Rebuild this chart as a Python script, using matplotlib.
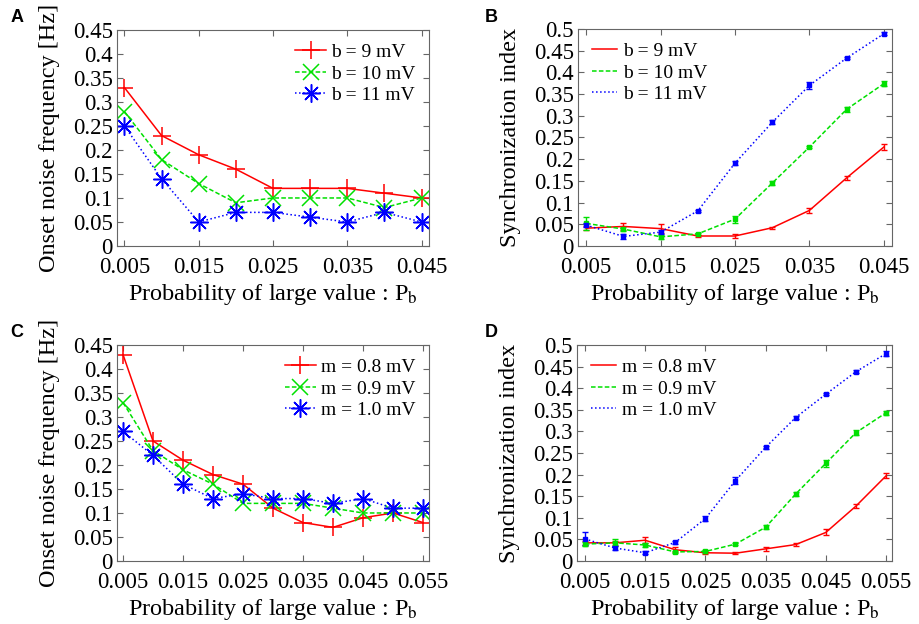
import numpy as np
import matplotlib
matplotlib.use("Agg")
import matplotlib.pyplot as plt
from matplotlib.lines import Line2D

plt.rcParams['font.family'] = ['Liberation Serif', 'DejaVu Serif']
plt.rcParams['mathtext.fontset'] = 'stix'

# data
pb_ab = [0.005, 0.010, 0.015, 0.020, 0.025, 0.030, 0.035, 0.040, 0.045]
pb_cd = [0.005, 0.010, 0.015, 0.020, 0.025, 0.030, 0.035, 0.040, 0.045, 0.050, 0.055]

# panel A: onset noise frequency
a_b9 = [0.33, 0.23, 0.19, 0.16, 0.12, 0.12, 0.12, 0.11, 0.10]
a_b10 = [0.28, 0.18, 0.13, 0.09, 0.10, 0.10, 0.10, 0.08, 0.10]
a_b11 = [0.25, 0.14, 0.05, 0.07, 0.07, 0.06, 0.05, 0.07, 0.05]

# panel B: synchronization index (+ error)
b_b9 = [0.041, 0.045, 0.040, 0.023, 0.023, 0.042, 0.082, 0.157, 0.228]
b_b9_err = [0.005, 0.008, 0.010, 0.003, 0.005, 0.002, 0.005, 0.004, 0.008]
b_b10 = [0.052, 0.039, 0.021, 0.028, 0.062, 0.145, 0.228, 0.315, 0.374]
b_b10_err = [0.015, 0.005, 0.004, 0.003, 0.008, 0.005, 0.003, 0.006, 0.005]
b_b11 = [0.048, 0.022, 0.032, 0.081, 0.191, 0.285, 0.370, 0.433, 0.489]
b_b11_err = [0.005, 0.005, 0.005, 0.003, 0.005, 0.005, 0.008, 0.003, 0.004]

# panel C: onset noise frequency
c_m08 = [0.43, 0.25, 0.21, 0.18, 0.16, 0.11, 0.08, 0.07, 0.09, 0.10, 0.08]
c_m09 = [0.33, 0.23, 0.19, 0.16, 0.12, 0.12, 0.12, 0.11, 0.10, 0.10, 0.10]
c_m10 = [0.27, 0.22, 0.16, 0.13, 0.14, 0.13, 0.13, 0.12, 0.13, 0.11, 0.11]

# panel D: synchronization index (+ error)
d_m08 = [0.042, 0.042, 0.048, 0.026, 0.019, 0.018, 0.028, 0.038, 0.066, 0.127, 0.197]
d_m08_err = [0.004, 0.004, 0.007, 0.006, 0.004, 0.002, 0.005, 0.004, 0.007, 0.005, 0.006]
d_m09 = [0.039, 0.042, 0.037, 0.021, 0.022, 0.039, 0.078, 0.155, 0.226, 0.297, 0.343]
d_m09_err = [0.004, 0.008, 0.004, 0.003, 0.004, 0.003, 0.005, 0.004, 0.008, 0.006, 0.005]
d_m10 = [0.051, 0.030, 0.019, 0.043, 0.098, 0.186, 0.263, 0.332, 0.386, 0.438, 0.480]
d_m10_err = [0.015, 0.004, 0.003, 0.004, 0.006, 0.008, 0.004, 0.003, 0.003, 0.003, 0.005]

labels_b = ['b = 9 mV', 'b = 10 mV', 'b = 11 mV']
labels_m = ['m = 0.8 mV', 'm = 0.9 mV', 'm = 1.0 mV']

RED = '#ff0000'
GREEN = '#00e000'
BLUE = '#0000ff'
ASTER = (8, 2, 0)
DASH = (3, 1.5)

xlabel = r'Probability of large value : P$_{\mathrm{b}}$'
fs = 16.5
lfs = 17.5


def style(ax, xlim, xticks, ylim, yticks, ylab):
    ax.set_xlim(xlim)
    ax.set_ylim(ylim)
    ax.set_xticks(xticks)
    ax.set_xticklabels(['%g' % t for t in xticks])
    ax.set_yticks(yticks)
    ax.set_yticklabels(['%g' % round(t, 2) for t in yticks])
    ax.tick_params(direction='in', top=True, right=True, length=4,
                   color='#666666', labelsize=fs)
    ax.tick_params(axis='x', pad=8)
    ax.tick_params(axis='y', pad=3)
    for s in ax.spines.values():
        s.set_color('#666666')
    ax.set_xlabel(xlabel, fontsize=lfs, labelpad=3)
    ax.set_ylabel(ylab, fontsize=lfs, labelpad=9)


fig = plt.figure(figsize=(9.19, 6.24), dpi=100)

axA = fig.add_axes([0.1273, 0.6058, 0.3395, 0.3462])
axB = fig.add_axes([0.629, 0.6058, 0.3417, 0.3478])
axC = fig.add_axes([0.1273, 0.101, 0.3395, 0.3462])
axD = fig.add_axes([0.6279, 0.101, 0.3428, 0.3462])

leg_kw = dict(frameon=False, fontsize=14, labelspacing=0.2, borderaxespad=0.3)

# A
axA.plot(pb_ab, a_b9, '-', color=RED, marker='+', ms=13, mew=1.1, lw=1.1, label=labels_b[0])
axA.plot(pb_ab, a_b10, '--', color=GREEN, marker='x', ms=11, mew=1.1, lw=1.1,
         dashes=DASH, label=labels_b[1])
axA.plot(pb_ab, a_b11, ':', color=BLUE, marker=ASTER, ms=13, mew=1.1, lw=1.1, label=labels_b[2])
style(axA, (0.004, 0.046), [0.005, 0.015, 0.025, 0.035, 0.045],
      (0, 0.45), np.arange(0, 0.451, 0.05), 'Onset noise frequency [Hz]')
axA.legend(loc='upper right', handlelength=1.6, handletextpad=0.25, **leg_kw)

# B
axB.errorbar(pb_ab, b_b9, yerr=b_b9_err, fmt='-', color=RED, lw=1.1, capsize=2,
             elinewidth=1)
axB.errorbar(pb_ab, b_b10, yerr=b_b10_err, fmt='--', color=GREEN, lw=1.1, capsize=2,
             elinewidth=1, marker='s', ms=2.5, dashes=DASH)
axB.errorbar(pb_ab, b_b11, yerr=b_b11_err, fmt=':', color=BLUE, lw=1.1, capsize=2,
             elinewidth=1, marker='s', ms=3.5)
style(axB, (0.0039, 0.0461), [0.005, 0.015, 0.025, 0.035, 0.045],
      (0, 0.5), np.arange(0, 0.501, 0.05), 'Synchronization index')
hb = [Line2D([], [], color=RED, lw=1.1, ls='-'),
      Line2D([], [], color=GREEN, lw=1.1, ls='--', dashes=DASH),
      Line2D([], [], color=BLUE, lw=1.1, ls=':')]
axB.legend(hb, labels_b, loc='upper left', handlelength=1.3, handletextpad=0.3, **leg_kw)

# C
axC.plot(pb_cd, c_m08, '-', color=RED, marker='+', ms=13, mew=1.1, lw=1.1, label=labels_m[0])
axC.plot(pb_cd, c_m09, '--', color=GREEN, marker='x', ms=11, mew=1.1, lw=1.1,
         dashes=DASH, label=labels_m[1])
axC.plot(pb_cd, c_m10, ':', color=BLUE, marker=ASTER, ms=13, mew=1.1, lw=1.1, label=labels_m[2])
style(axC, (0.004, 0.056), [0.005, 0.015, 0.025, 0.035, 0.045, 0.055],
      (0, 0.45), np.arange(0, 0.451, 0.05), 'Onset noise frequency [Hz]')
axC.legend(loc='upper right', handlelength=1.6, handletextpad=0.25, **leg_kw)

# D
axD.errorbar(pb_cd, d_m08, yerr=d_m08_err, fmt='-', color=RED, lw=1.1, capsize=2,
             elinewidth=1)
axD.errorbar(pb_cd, d_m09, yerr=d_m09_err, fmt='--', color=GREEN, lw=1.1, capsize=2,
             elinewidth=1, marker='s', ms=2.5, dashes=DASH)
axD.errorbar(pb_cd, d_m10, yerr=d_m10_err, fmt=':', color=BLUE, lw=1.1, capsize=2,
             elinewidth=1, marker='s', ms=3.5)
style(axD, (0.0037, 0.056), [0.005, 0.015, 0.025, 0.035, 0.045, 0.055],
      (0, 0.5), np.arange(0, 0.501, 0.05), 'Synchronization index')
axD.legend(hb, labels_m, loc='upper left', handlelength=1.3, handletextpad=0.3, **leg_kw)

# panel letters
for lab, x, y in [('A', 0.011, 0.985), ('B', 0.527, 0.985), ('C', 0.011, 0.48), ('D', 0.527, 0.48)]:
    fig.text(x, y, lab, fontsize=13, fontweight='bold', family='Liberation Sans',
             va='top', ha='left')

fig.savefig('out.png', dpi=100)
